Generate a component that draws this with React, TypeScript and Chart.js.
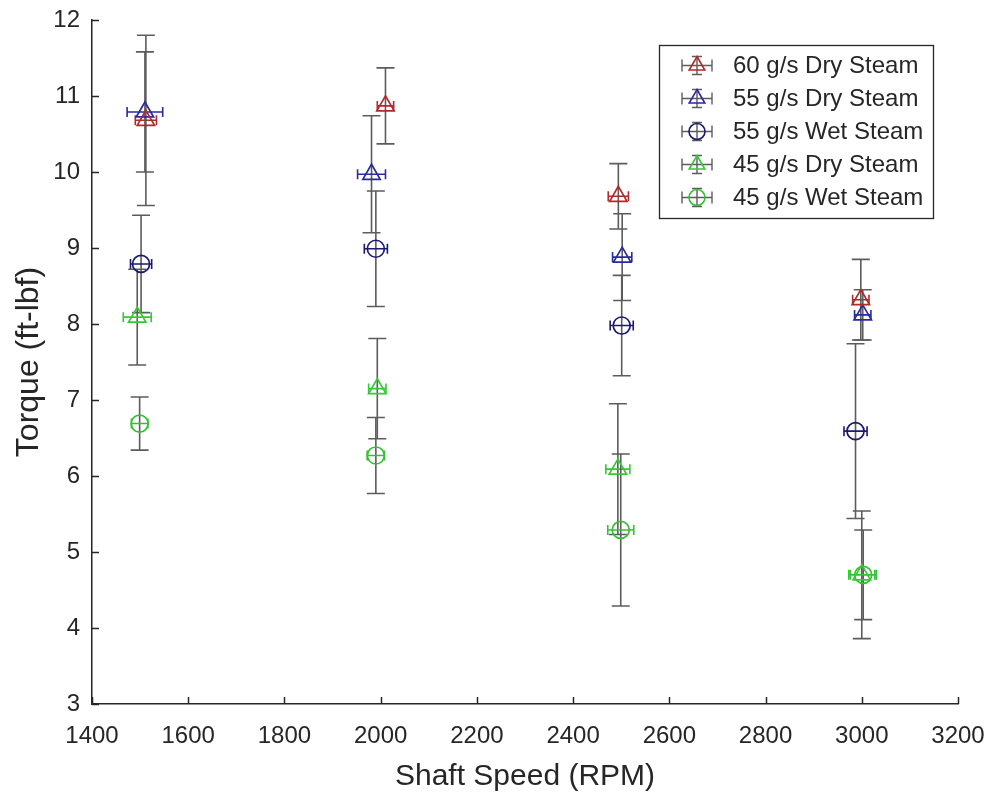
import { useEffect, useRef } from "react";
import { Chart, registerables } from "chart.js";

Chart.register(...registerables);

// ---- Data ----
const seriesLabels = [
  "60 g/s Dry Steam",
  "55 g/s Dry Steam",
  "55 g/s Wet Steam",
  "45 g/s Dry Steam",
  "45 g/s Wet Steam",
];
const seriesColors = ["#B02A2A", "#2A2AA0", "#1A1A6E", "#36C836", "#34C034"];
const seriesMarkers = ["triangle", "triangle", "circle", "triangle", "circle"];

const dry60Speed = [1512, 2010, 2494, 2998];
const dry60Torque = [10.68, 10.87, 9.68, 8.32];
const dry60TorqueErr = [1.12, 0.5, 0.43, 0.53];
const dry60SpeedErr = [22, 17, 21, 17];

const dry55Speed = [1510, 1981, 2502, 3002];
const dry55Torque = [10.79, 9.97, 8.88, 8.12];
const dry55TorqueErr = [0.79, 0.77, 0.57, 0.33];
const dry55SpeedErr = [37, 29, 20, 17];

const wet55Speed = [1502, 1990, 2501, 2987];
const wet55Torque = [8.79, 8.99, 7.98, 6.59];
const wet55TorqueErr = [0.64, 0.76, 0.66, 1.15];
const wet55SpeedErr = [22, 24, 24, 24];

const dry45Speed = [1494, 1993, 2493, 3000];
const dry45Torque = [8.09, 7.15, 6.09, 4.7];
const dry45TorqueErr = [0.63, 0.66, 0.86, 0.84];
const dry45SpeedErr = [29, 18, 25, 27];

const wet45Speed = [1499, 1990, 2499, 3003];
const wet45Torque = [6.69, 6.27, 5.29, 4.7];
const wet45TorqueErr = [0.35, 0.5, 1.0, 0.59];
const wet45SpeedErr = [17, 18, 27, 27];

const xTickMin = 1400;
const xTickMax = 3200;
const xTickStep = 200;
const yTickMin = 3;
const yTickMax = 12;
const yTickStep = 1;

const xTitle = "Shaft Speed (RPM)";
const yTitle = "Torque (ft-lbf)";

const allSpeed = [dry60Speed, dry55Speed, wet55Speed, dry45Speed, wet45Speed];
const allTorque = [dry60Torque, dry55Torque, wet55Torque, dry45Torque, wet45Torque];
const allTorqueErr = [dry60TorqueErr, dry55TorqueErr, wet55TorqueErr, dry45TorqueErr, wet45TorqueErr];
const allSpeedErr = [dry60SpeedErr, dry55SpeedErr, wet55SpeedErr, dry45SpeedErr, wet45SpeedErr];

const FONT = "'Liberation Sans', Arial, Helvetica, sans-serif";
const TEXT = "#262626";
const AXIS = "#262626";
const BAR = "#5c5c5c";

const errorBarPlugin = {
  id: "errorBars",
  beforeDatasetsDraw(chart: any) {
    const ctx = chart.ctx;
    const xs = chart.scales.x;
    const ys = chart.scales.y;
    ctx.save();
    chart.data.datasets.forEach((ds: any, di: number) => {
      const yErr = allTorqueErr[di];
      const xErr = allSpeedErr[di];
      ds.data.forEach((p: any, i: number) => {
        const px = xs.getPixelForValue(p.x);
        const py = ys.getPixelForValue(p.y);
        const yTop = ys.getPixelForValue(p.y + yErr[i]);
        const yBot = ys.getPixelForValue(p.y - yErr[i]);
        const xL = xs.getPixelForValue(p.x - xErr[i]);
        const xR = xs.getPixelForValue(p.x + xErr[i]);
        ctx.strokeStyle = BAR;
        ctx.lineWidth = 1.6;
        ctx.beginPath();
        ctx.moveTo(px, yTop);
        ctx.lineTo(px, yBot);
        ctx.moveTo(px - 9, yTop);
        ctx.lineTo(px + 9, yTop);
        ctx.moveTo(px - 9, yBot);
        ctx.lineTo(px + 9, yBot);
        ctx.stroke();
        ctx.strokeStyle = ds.borderColor;
        ctx.lineWidth = 1.6;
        ctx.beginPath();
        ctx.moveTo(xL, py);
        ctx.lineTo(xR, py);
        ctx.moveTo(xL, py - 5);
        ctx.lineTo(xL, py + 5);
        ctx.moveTo(xR, py - 5);
        ctx.lineTo(xR, py + 5);
        ctx.stroke();
      });
    });
    ctx.restore();
  },
};

const inwardTicksPlugin = {
  id: "inwardTicks",
  afterDraw(chart: any) {
    const ctx = chart.ctx;
    const xs = chart.scales.x;
    const ys = chart.scales.y;
    const area = chart.chartArea;
    ctx.save();
    ctx.strokeStyle = AXIS;
    ctx.lineWidth = 1.5;
    ctx.beginPath();
    xs.ticks.forEach((t: any) => {
      const px = Math.round(xs.getPixelForValue(t.value)) + 0.5;
      ctx.moveTo(px, area.bottom);
      ctx.lineTo(px, area.bottom - 7);
    });
    ys.ticks.forEach((t: any) => {
      const py = Math.round(ys.getPixelForValue(t.value)) + 0.5;
      ctx.moveTo(area.left, py);
      ctx.lineTo(area.left + 7, py);
    });
    ctx.stroke();
    ctx.restore();
  },
};

const legendPlugin = {
  id: "customLegend",
  afterDraw(chart: any) {
    const ctx = chart.ctx;
    const area = chart.chartArea;
    const boxW = 274;
    const rowH = 33;
    const n = chart.data.datasets.length;
    const boxH = rowH * n + 8;
    const right = area.right - 25;
    const left = right - boxW;
    const top = area.top + 25;
    ctx.save();
    ctx.fillStyle = "#ffffff";
    ctx.fillRect(left, top, boxW, boxH);
    ctx.strokeStyle = AXIS;
    ctx.lineWidth = 1.3;
    ctx.strokeRect(left + 0.5, top + 0.5, boxW, boxH);
    chart.data.datasets.forEach((ds: any, i: number) => {
      const cy = top + 4 + rowH * i + rowH / 2;
      const cx = left + 38;
      ctx.strokeStyle = BAR;
      ctx.lineWidth = 1.4;
      ctx.beginPath();
      ctx.moveTo(cx, cy - 9);
      ctx.lineTo(cx, cy + 9);
      ctx.moveTo(cx - 5, cy - 9);
      ctx.lineTo(cx + 5, cy - 9);
      ctx.moveTo(cx - 5, cy + 9);
      ctx.lineTo(cx + 5, cy + 9);
      ctx.moveTo(cx - 15, cy);
      ctx.lineTo(cx + 15, cy);
      ctx.moveTo(cx - 15, cy - 6);
      ctx.lineTo(cx - 15, cy + 6);
      ctx.moveTo(cx + 15, cy - 6);
      ctx.lineTo(cx + 15, cy + 6);
      ctx.stroke();
      ctx.strokeStyle = ds.borderColor;
      ctx.lineWidth = 1.6;
      ctx.beginPath();
      if (ds.pointStyle === "triangle") {
        const r = 9;
        ctx.moveTo(cx, cy - r);
        ctx.lineTo(cx + r * 0.866, cy + r * 0.5);
        ctx.lineTo(cx - r * 0.866, cy + r * 0.5);
        ctx.closePath();
      } else {
        ctx.arc(cx, cy, 8, 0, Math.PI * 2);
      }
      ctx.stroke();
      ctx.fillStyle = TEXT;
      ctx.font = `24px ${FONT}`;
      ctx.textBaseline = "middle";
      ctx.textAlign = "left";
      ctx.fillText(ds.label, left + 74, cy + 1);
    });
    ctx.restore();
  },
};

export default function App() {
  const canvasRef = useRef<HTMLCanvasElement | null>(null);

  useEffect(() => {
    document.body.style.margin = "0";
    const canvas = canvasRef.current;
    if (!canvas) return;
    const datasets = seriesLabels.map((label, si) => ({
      label,
      data: allSpeed[si].map((x, i) => ({ x, y: allTorque[si][i] })),
      borderColor: seriesColors[si],
      backgroundColor: "rgba(0,0,0,0)",
      pointStyle: seriesMarkers[si],
      pointRadius: seriesMarkers[si] === "triangle" ? 10 : 8.5,
      pointBorderWidth: 1.7,
      showLine: false,
    }));
    const chart = new Chart(canvas, {
      type: "scatter",
      data: { datasets } as any,
      plugins: [errorBarPlugin, inwardTicksPlugin, legendPlugin],
      options: {
        responsive: false,
        animation: false,
        layout: { padding: { top: 20, right: 34, left: 0, bottom: 0 } },
        plugins: {
          legend: { display: false },
          tooltip: { enabled: false },
        },
        scales: {
          x: {
            type: "linear",
            min: xTickMin,
            max: xTickMax,
            ticks: {
              stepSize: xTickStep,
              color: TEXT,
              font: { family: FONT, size: 24 },
              padding: 18,
              maxRotation: 0,
              callback: (v: any) => String(v),
            },
            grid: { display: false, drawTicks: false },
            border: { display: true, color: AXIS, width: 1.5 },
            title: {
              display: true,
              text: xTitle,
              color: TEXT,
              font: { family: FONT, size: 30, lineHeight: 1 },
              padding: { top: 0, bottom: 0 },
            },
            afterFit: (s: any) => {
              s.height = 88;
              s.paddingLeft = 0;
              s.paddingRight = 0;
            },
          },
          y: {
            type: "linear",
            min: yTickMin,
            max: yTickMax,
            ticks: {
              stepSize: yTickStep,
              color: TEXT,
              font: { family: FONT, size: 24 },
              padding: 12,
            },
            grid: { display: false, drawTicks: false },
            border: { display: true, color: AXIS, width: 1.5 },
            title: {
              display: true,
              text: yTitle,
              color: TEXT,
              font: { family: FONT, size: 32, lineHeight: 1 },
              padding: { top: 13, bottom: 0 },
            },
            afterFit: (s: any) => {
              s.width = 92;
              s.paddingTop = 0;
              s.paddingBottom = 0;
            },
          },
        },
      } as any,
    });
    return () => chart.destroy();
  }, []);

  return (
    <div style={{ position: "fixed", left: 0, top: 0, width: 992, height: 792, background: "#fff" }}>
      <canvas ref={canvasRef} width={992} height={792} />
    </div>
  );
}
